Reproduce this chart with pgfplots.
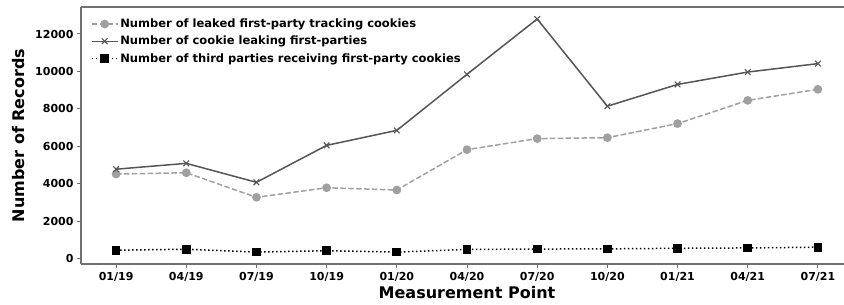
\documentclass[border=0pt]{standalone}
\usepackage{pgfplots}
\pgfplotsset{compat=1.18}
\usepackage{fontspec}
\setmainfont{DejaVu Sans}
\definecolor{lgray}{HTML}{A0A0A0}
\definecolor{dgray}{HTML}{555555}
\definecolor{spine}{HTML}{707070}
\begin{document}
\begin{tikzpicture}
\begin{axis}[
  scale only axis,
  width=772pt, height=257pt,
  xmin=-0.5, xmax=10.5,
  ymin=-267, ymax=13440,
  axis x line*=bottom, axis y line*=left,
  axis line style={spine, line width=1.2pt},
  every outer x axis line/.append style={-},
  every outer y axis line/.append style={-},
  xtick={0,...,10},
  xticklabels={01/19,04/19,07/19,10/19,01/20,04/20,07/20,10/20,01/21,04/21,07/21},
  ytick={0,2000,4000,6000,8000,10000,12000},
  scaled y ticks=false,
  yticklabel style={/pgf/number format/.cd, fixed, 1000 sep={}, assume math mode=true},
  ticklabel style={font=\bfseries\fontsize{11}{13}\selectfont},
  xticklabel style={yshift=-1pt},
  tick style={spine, line width=1pt},
  tick align=outside,
  major tick length=4pt,
  xlabel={Measurement Point},
  ylabel={Number of Records},
  label style={font=\bfseries\fontsize{16}{18}\selectfont},
  xlabel style={at={(axis description cs:0.5,0)}, anchor=center, yshift=-29pt},
  ylabel style={at={(axis description cs:-0.0803,0.5)}, anchor=center},
  legend cell align=left,
  legend style={draw=none, fill=none, at={(axis description cs:0.009,0.97)}, anchor=north west,
    font=\bfseries\fontsize{11.5}{13}\selectfont, row sep=3pt},
  legend image code/.code={\draw[mark repeat=2,mark phase=2] plot coordinates {(0cm,0cm) (0.45cm,0cm) (0.9cm,0cm)};},
]
\addplot[lgray, line width=1.5pt, dash pattern=on 5.5pt off 2.4pt, mark=*, mark size=3.6pt, mark options={solid, fill=lgray, draw=lgray}]
  coordinates {(0,4530) (1,4600) (2,3290) (3,3800) (4,3680) (5,5830) (6,6420) (7,6470) (8,7220) (9,8460) (10,9050)};
\addlegendentry{Number of leaked first-party tracking cookies}
\addplot[dgray, line width=1.5pt, mark=x, mark size=4pt, mark options={solid, line width=1.1pt}]
  coordinates {(0,4790) (1,5100) (2,4090) (3,6060) (4,6860) (5,9850) (6,12800) (7,8150) (8,9310) (9,9970) (10,10420)};
\addlegendentry{Number of cookie leaking first-parties}
\addplot[black, line width=1.5pt, dash pattern=on 1.5pt off 2.5pt, mark=square*, mark size=3.6pt, mark options={solid, fill=black}]
  coordinates {(0,470) (1,520) (2,370) (3,440) (4,370) (5,510) (6,530) (7,540) (8,570) (9,590) (10,630)};
\addlegendentry{Number of third parties receiving first-party cookies}
\coordinate (ll) at (rel axis cs:0,0);
\coordinate (ur) at (rel axis cs:1,1);
\coordinate (ul) at (rel axis cs:0,1);
\end{axis}
\draw[spine, line width=1.2pt] (ul) -- (ur);
\pgfresetboundingbox
\path ([xshift=-81pt,yshift=-41pt]ll) rectangle ([xshift=-9pt,yshift=7pt]ur);
\end{tikzpicture}
\end{document}
